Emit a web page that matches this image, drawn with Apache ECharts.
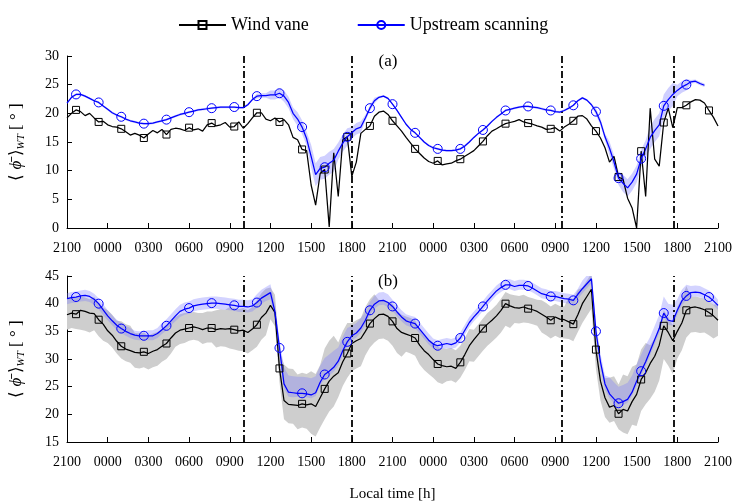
<!DOCTYPE html>
<html><head><meta charset="utf-8">
<script src="https://cdn.jsdelivr.net/npm/echarts@6/dist/echarts.min.js"></script>
<style>html,body{margin:0;padding:0;background:#fff}#c{width:735px;height:503px}</style>
</head><body><div id="c"></div>
<script>
// x values: hours since 21:00 on the first evening, sampled every 20 minutes
const sampleMinutes = 20;
const xTickLabels = ['2100','0000','0300','0600','0900','1200','1500','1800','2100','0000','0300','0600','0900','1200','1500','1800','2100'];
const dashTimes = [13, 21, 36.5, 44.75];
const seriesNames = ['Wind vane', 'Upstream scanning'];

// Panel (a)
const blackA = [19.2,20.0,20.6,20.3,19.6,20.0,19.2,18.5,18.6,18.0,
17.7,17.6,17.3,16.8,16.2,16.5,16.2,15.7,16.4,17.0,
16.6,17.2,16.3,17.2,17.4,17.3,17.0,17.5,17.1,17.3,
16.9,18.0,18.3,17.8,18.0,18.4,17.6,17.7,18.5,17.4,
18.2,19.2,20.1,20.1,19.0,18.7,19.2,18.5,18.9,18.0,
15.8,15.4,13.7,13.5,7.5,4.0,9.5,10.2,0.2,13.1,
5.5,15.4,15.9,9.0,11.5,16.5,17.2,17.8,19.5,20.2,
20.4,19.8,18.7,17.8,16.9,15.8,14.8,13.8,13.0,12.2,
11.6,11.3,11.7,11.0,11.2,11.3,11.7,12.0,12.5,13.0,
13.5,14.3,15.1,16.1,16.9,17.3,17.8,18.2,18.4,18.6,
18.9,18.5,18.3,18.1,17.8,17.6,17.2,17.3,17.5,16.9,
17.6,18.1,18.7,19.5,19.6,19.0,17.8,16.9,15.7,14.0,
11.5,12.5,8.9,8.5,5.2,3.5,0.0,13.4,5.5,20.9,
12.0,10.8,18.4,20.9,17.5,21.0,21.0,21.4,22.0,22.4,
22.3,21.8,20.5,19.3,17.8];
const blueA = [21.8,22.8,23.3,23.3,23.0,22.6,22.2,21.9,21.3,20.7,
20.1,19.7,19.4,19.0,18.7,18.5,18.3,18.2,18.2,18.3,
18.5,18.7,18.9,19.2,19.5,19.8,20.0,20.2,20.4,20.6,
20.7,20.8,20.9,21.0,21.1,21.1,21.1,21.1,21.0,21.0,
21.5,22.4,23.0,23.1,23.1,23.2,23.2,23.5,23.0,21.9,
20.0,19.0,17.6,15.6,12.5,9.3,10.4,10.6,11.3,11.8,
13.4,14.8,15.9,16.6,17.3,17.6,19.2,20.9,22.2,22.8,
23.0,22.6,21.6,20.5,19.3,18.1,17.2,16.6,15.8,15.0,
14.4,14.0,13.8,13.6,13.5,13.5,13.6,13.8,14.3,15.0,
15.8,16.5,17.1,17.8,18.6,19.3,19.9,20.5,20.7,20.9,
21.1,21.2,21.2,21.1,21.0,20.8,20.6,20.5,20.3,20.2,
20.5,20.9,21.4,22.2,22.7,22.3,21.5,20.3,18.5,15.9,
13.9,11.5,8.7,7.8,7.0,8.0,9.4,12.1,13.8,15.8,
17.0,18.0,21.3,22.4,23.3,24.0,24.6,25.0,25.5,25.6,
25.2,24.9];
// hourly half-width of the blue band in panel (a)
const spreadA = [0.2,0.2,0.2,0.2,0.2,0.2,0.2,0.2,0.2,0.2,0.2,0.2,0.2,0.2,
0.4,0.8,1.0,1.2,2.0,2.0,1.5,1.0,0.5,
0.2,0.2,0.2,0.2,0.2,0.2,0.2,0.2,0.2,0.2,0.2,0.2,0.2,0.2,0.2,0.2,
0.6,1.2,1.5,1.5,2.0,2.0,1.0,0.3,0.3,0.3];

// Panel (b)
const blackB = [38.0,38.3,38.1,38.8,38.6,38.3,38.2,37.1,36.3,35.1,
34.3,33.2,32.3,31.8,31.5,31.2,31.1,31.3,31.0,31.4,
31.7,32.3,32.8,33.8,34.7,35.2,35.4,35.6,35.8,35.6,
35.3,35.6,35.6,35.3,35.5,35.4,35.5,35.3,35.1,35.2,
34.8,35.4,36.2,37.5,38.3,39.7,38.4,28.3,22.5,21.8,
21.7,21.6,21.9,21.7,21.9,21.4,23.0,24.6,26.0,26.9,
27.5,29.5,31.0,32.8,33.3,33.7,35.0,36.4,37.3,38.0,
38.1,37.7,36.8,35.5,34.8,34.5,34.2,33.8,32.5,31.5,
30.8,29.9,29.1,28.8,28.6,28.7,28.3,29.4,30.8,32.4,
33.5,34.5,35.5,36.3,37.0,37.8,38.8,40.0,39.6,39.3,
39.2,39.4,39.1,38.9,38.6,38.1,37.6,37.0,37.6,37.2,
37.1,36.7,36.3,38.0,40.0,41.3,42.6,31.7,26.0,23.0,
21.3,21.6,20.1,20.9,20.6,22.3,23.6,26.3,27.5,29.2,
30.5,32.5,36.0,34.8,33.3,35.0,36.5,38.8,39.3,39.4,
39.2,38.9,38.4,37.8,37.0];
const blueB = [40.9,41.1,41.2,41.4,41.5,41.3,40.8,40.0,38.9,37.8,
36.9,36.1,35.5,35.0,34.6,34.3,34.2,34.2,34.2,34.2,
34.6,35.3,36.0,36.9,37.8,38.6,39.0,39.2,39.6,39.8,
39.9,40.0,40.1,40.1,40.0,39.9,39.8,39.7,39.5,39.5,
39.4,39.6,40.2,41.0,41.5,42.0,38.5,32.0,25.5,24.0,
23.9,23.8,23.8,23.7,23.5,23.9,25.8,27.2,27.8,28.5,
29.6,31.5,33.1,34.2,34.7,35.6,37.0,38.8,39.9,40.5,
40.6,40.2,39.5,38.5,37.6,36.9,36.6,36.4,35.4,34.4,
33.4,32.7,32.4,32.6,32.8,32.6,32.9,33.8,35.2,36.6,
37.6,38.5,39.5,40.5,41.4,42.3,42.9,43.4,43.4,43.1,
43.3,43.3,43.2,42.8,42.3,41.8,41.6,41.3,41.3,41.1,
40.9,40.8,40.6,41.7,42.7,43.6,44.5,35.0,29.5,25.5,
23.7,22.8,22.0,22.3,22.7,24.0,26.0,27.8,29.5,31.5,
33.5,35.5,38.3,37.0,36.8,38.8,40.5,41.4,42.0,42.1,
42.0,41.6,41.2,40.5,39.7];
// hourly band extents (above / below the line) in panel (b)
const grayHiB = [2.9,2.5,3.0,3.7,4.5,3.5,3.2,3.0,2.9,2.7,3.0,3.5,3.9,4.0,4.4,3.2,6.5,5.6,5.9,7.3,5.5,3.7,4.4,2.6,3.2,3.2,2.8,3.1,3.3,3.0,1.8,2.0,2.1,2.2,2.1,2.5,2.4,4.5,2.9,3.5,5.3,6.3,5.4,3.3,2.8,4.4,1.9,2.0,3.0];
const grayLoB = [2.7,3.5,3.0,2.2,2.2,2.8,2.9,2.8,2.5,2.3,2.6,3.2,3.6,3.8,4.0,2.5,3.4,4.3,5.4,5.5,4.4,5.0,4.3,4.4,4.4,3.2,3.5,3.3,2.6,2.8,4.0,3.9,4.0,2.8,2.6,3.3,3.4,3.1,3.5,3.5,2.8,4.2,5.7,6.4,6.0,4.9,4.5,4.1,2.8];
const blueHiB = [1.0,1.0,1.0,1.0,1.0,0.8,1.0,1.2,1.2,1.2,1.2,1.2,1.2,1.2,1.5,1.5,3.0,3.0,3.0,3.0,2.5,1.8,1.5,1.5,1.2,1.2,1.2,1.0,1.0,1.0,1.0,1.0,1.0,1.0,1.0,1.0,1.0,1.0,1.5,1.5,3.0,3.0,3.0,2.5,3.0,2.0,1.2,1.2,1.0];
const blueLoB = [1.0,1.0,1.0,0.8,0.8,0.8,0.8,0.8,1.0,1.0,1.0,1.0,1.0,1.0,1.0,1.2,0.8,0.6,0.6,0.8,0.8,0.8,0.8,0.8,0.8,0.8,0.8,0.8,0.8,0.8,0.8,0.8,0.8,0.8,0.8,0.8,0.8,0.8,0.8,1.0,0.8,0.6,0.8,0.8,0.8,0.8,0.8,0.8,0.8];

const FONT = 'Liberation Serif';
const hourOf = i => i * sampleMinutes / 60;
const pts = arr => arr.map((v, i) => [hourOf(i), v]);

function band(ax, base, hi, lo, color, z) {
  const up = base.map((v, i) => [hourOf(i), v + hi[Math.floor(hourOf(i))]]);
  const dn = base.map((v, i) => [hourOf(i), v - lo[Math.floor(hourOf(i))]]);
  return {
    type: 'custom', xAxisIndex: ax, yAxisIndex: ax, z: z, silent: true, clip: true,
    data: [[0, base[0]]],
    renderItem: (params, api) => {
      const points = up.map(p => api.coord(p)).concat(dn.slice().reverse().map(p => api.coord(p)));
      return { type: 'polygon', shape: { points: points }, style: { fill: color } };
    }
  };
}
const markerSize = (n) => (v, p) => (p.dataIndex % 5 === 2 ? n : 0);

function lineSeries(ax, name, data, color, symbol, size, withMarks) {
  const s = {
    type: 'line', name: name, xAxisIndex: ax, yAxisIndex: ax, data: pts(data), z: 5,
    showSymbol: true, showAllSymbol: true, symbol: symbol, symbolSize: markerSize(size),
    lineStyle: { color: color, width: 1.25 },
    itemStyle: { color: 'rgba(0,0,0,0)', borderColor: color, borderWidth: 1 },
    emphasis: { disabled: true }, animation: false
  };
  if (withMarks) {
    s.markLine = {
      silent: true, symbol: ['none', 'none'], label: { show: false },
      lineStyle: { color: '#000', width: 1.8, type: [7, 3, 2, 3] },
      data: dashTimes.map(t => ({ xAxis: t })), animation: false
    };
  }
  return s;
}

function xAxis(gi) {
  return {
    type: 'value', gridIndex: gi, min: 0, max: 48, interval: 3,
    axisLine: { show: true, lineStyle: { color: '#000', width: 1 } },
    axisTick: { inside: true, length: 5, lineStyle: { color: '#000' } },
    splitLine: { show: false },
    axisLabel: { margin: 13, color: '#000', fontFamily: FONT, fontSize: 14,
      formatter: v => xTickLabels[Math.round(v / 3)] },
    name: gi === 1 ? 'Local time [h]' : '', nameLocation: 'middle', nameGap: 45,
    nameTextStyle: { color: '#000', fontFamily: FONT, fontSize: 15 }
  };
}
function yAxis(gi, min, max) {
  return {
    type: 'value', gridIndex: gi, min: min, max: max, interval: 5,
    axisLine: { show: true, lineStyle: { color: '#000', width: 1 } },
    axisTick: { show: true, inside: true, length: 5, lineStyle: { color: '#000' } },
    splitLine: { show: false },
    axisLabel: { margin: 8, color: '#000', fontFamily: FONT, fontSize: 14 },
    name: '⟨ {p|ϕ̄} ⟩{s|WT} [ ° ]', nameLocation: 'middle', nameGap: 40, nameRotate: 90,
    nameTextStyle: { color: '#000', fontFamily: FONT, fontSize: 17,
      rich: {
        p: { fontFamily: FONT, fontSize: 17, fontStyle: 'italic', color: '#000' },
        s: { fontFamily: FONT, fontSize: 11, fontStyle: 'italic', verticalAlign: 'bottom', padding: [9, 0, 0, 0], color: '#000' }
      } }
  };
}

const chart = echarts.init(document.getElementById('c'), null, { renderer: 'canvas' });
chart.setOption({
  animation: false,
  backgroundColor: '#fff',
  legend: {
    data: seriesNames, left: 173, top: 11, itemWidth: 47, itemHeight: 10, itemGap: 48,
    textStyle: { fontFamily: FONT, fontSize: 18, color: '#000' },
    selectedMode: false
  },
  grid: [
    { left: 67, right: 11, top: 56, height: 172 },
    { left: 67, right: 11, top: 276, height: 172 }
  ],
  xAxis: [xAxis(0), xAxis(1)],
  yAxis: [yAxis(0, 0, 30), yAxis(1, 15, 45)],
  graphic: [
    { type: 'text', x: 388, y: 62, style: { text: '(a)', font: '17px "Liberation Serif"', fill: '#000', align: 'center', verticalAlign: 'middle' } },
    { type: 'text', x: 388, y: 282, style: { text: '(b)', font: '17px "Liberation Serif"', fill: '#000', align: 'center', verticalAlign: 'middle' } }
  ],
  series: [
    band(0, blueA, spreadA, spreadA, 'rgba(110,110,255,0.33)', 2),
    band(1, blackB, grayHiB, grayLoB, 'rgb(206,206,206)', 1),
    band(1, blueB, blueHiB, blueLoB, 'rgba(120,120,255,0.33)', 2),
    lineSeries(0, seriesNames[0], blackA, '#000', 'rect', 7, true),
    lineSeries(0, seriesNames[1], blueA, '#0000ff', 'circle', 9, false),
    lineSeries(1, seriesNames[0], blackB, '#000', 'rect', 7, true),
    lineSeries(1, seriesNames[1], blueB, '#0000ff', 'circle', 9, false)
  ]
});
</script></body></html>
